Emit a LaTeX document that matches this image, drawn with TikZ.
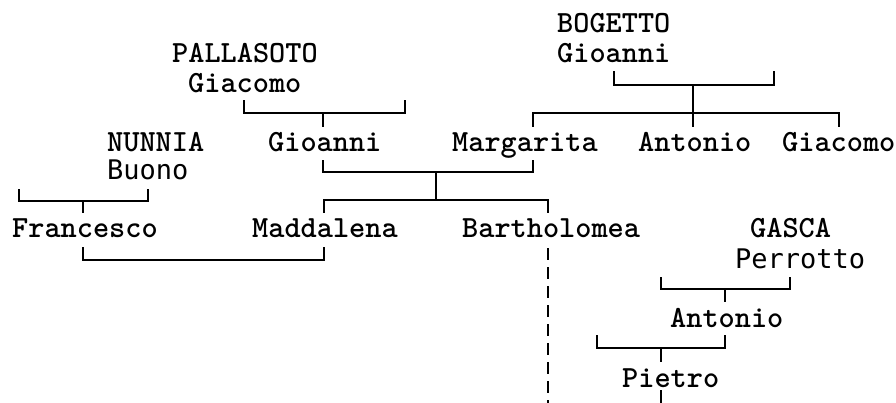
\documentclass[tikz,border=0pt]{standalone}
\usepackage{fontspec}
\newfontfamily\sansmono{DejaVu Sans Mono}
\usetikzlibrary{calc}
\tikzset{
  person/.style={inner sep=0pt,anchor=base west,text height=19pt,text depth=5pt,
    font=\ttfamily\bfseries\fontsize{30.8}{36}\selectfont},
  personsans/.style={person,font=\sansmono\fontsize{27}{32}\selectfont},
  kin/.style={line width=1.8pt},
}
\begin{document}
\begin{tikzpicture}[x=1pt,y=-1pt]
\useasboundingbox (0,0) rectangle (896,403);

\node[person] (bogetto) at (557,33) {BOGETTO};
\node[person] (gioanniB) at (557,63) {Gioanni};
\node[person] (margarita) at (452,152) {Margarita};
\node[person] (antonioB) at (638,152) {Antonio};
\node[person] (giacomoB) at (782,152) {Giacomo};
\coordinate (bogettoR) at (774,71);
\coordinate (bogettoM) at (693,85);
\coordinate (bogettoS) at (693,113);
\draw[kin] ($(gioanniB.south)+(0,3)$) |- (bogettoM) -| (bogettoR);
\draw[kin] (bogettoM) -- (bogettoS);
\draw[kin] ($(margarita.north)+(8,-6)$) |- (bogettoS) -| ($(giacomoB.north)+(0,-6)$);
\draw[kin] (bogettoS) -- ($(bogettoS |- antonioB.north)+(0,-6)$);

\node[person] (pallasoto) at (172,63) {PALLASOTO};
\node[person] (giacomoP) at (188,93) {Giacomo};
\node[person] (gioanniP) at (268,152) {Gioanni};
\coordinate (pallasotoR) at (405,100);
\coordinate (pallasotoM) at (323,113);
\draw[kin] ($(giacomoP.south)+(-1,2)$) |- (pallasotoM) -| (pallasotoR);
\draw[kin] (pallasotoM) -- ($(pallasotoM |- gioanniP.north)+(0,-6)$);

\node[person] (maddalena) at (252,238) {Maddalena};
\node[person] (bartholomea) at (462,238) {Bartholomea};
\coordinate (unionM) at (436,172);
\coordinate (unionS) at (436,200);
\draw[kin] ($(gioanniP.south)+(-2,3)$) |- (unionM) -| ($(margarita.south)+(8,3)$);
\draw[kin] (unionM) -- (unionS);
\draw[kin] ($(maddalena.north)+(-1,-6)$) |- (unionS) -| ($(bartholomea.north)+(-3,-6)$);
\coordinate (bartholomeaD) at (548,403);
\draw[kin,dash pattern=on 12pt off 7pt] (bartholomeaD |- {$(bartholomea.south)+(0,5)$}) -- (bartholomeaD);

\node[person] (nunnia) at (107,152) {NUNNIA};
\node[personsans] (buono) at (107,180) {Buono};
\node[person] (francesco) at (12,238) {Francesco};
\coordinate (nunniaL) at (19,189);
\coordinate (nunniaM) at (83,201);
\draw[kin] ($(buono.south)+(0,4)$) |- (nunniaM) -| (nunniaL);
\draw[kin] (nunniaM) -- ($(nunniaM |- francesco.north)+(0,-6)$);
\draw[kin] ($(francesco.south)+(-2,4)$) -- ++(0,13) -| ($(maddalena.south)+(-1,4)$);

\node[person] (gasca) at (750,238) {GASCA};
\node[personsans] (perrotto) at (735,268) {Perrotto};
\node[person] (antonioG) at (670,327) {Antonio};
\node[person] (pietro) at (622,387) {Pietro};
\coordinate (gascaL) at (661,277);
\coordinate (gascaM) at (725,289);
\draw[kin] ($(perrotto.south)+(-10,4)$) |- (gascaM) -| (gascaL);
\draw[kin] (gascaM) -- ($(gascaM |- antonioG.north)+(0,-6)$);
\coordinate (antonioL) at (597,335);
\coordinate (antonioM) at (661,348);
\draw[kin] ($(antonioG.south)+(-2,3)$) |- (antonioM) -| (antonioL);
\draw[kin] (antonioM) -- ($(antonioM |- pietro.north)+(0,-6)$);
\coordinate (pietroD) at (661,403);
\draw[kin] ($(pietroD |- pietro.south)+(0,-2)$) -- (pietroD);
\end{tikzpicture}
\end{document}
